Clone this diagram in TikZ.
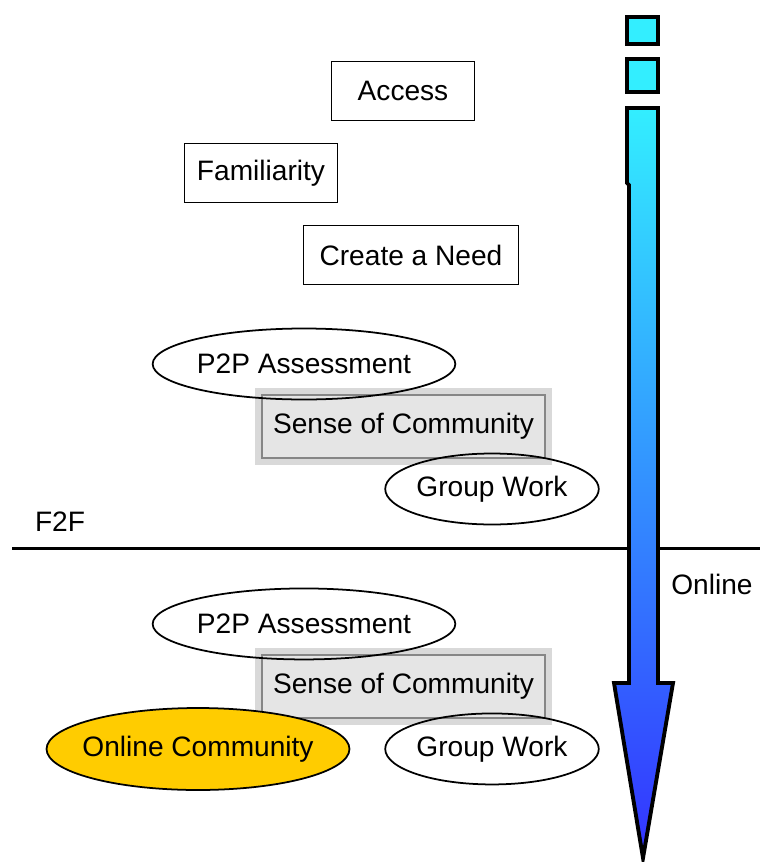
\documentclass[tikz,border=0pt]{standalone}
\usepackage{fontspec}
\setmainfont{Liberation Sans}
\usepackage{tikz}
\usetikzlibrary{shapes}
\usetikzlibrary{positioning}
\definecolor{arrowtop}{RGB}{51,238,255}
\definecolor{arrowbot}{RGB}{51,51,255}
\definecolor{commyellow}{RGB}{255,204,0}

\begin{document}
\begin{tikzpicture}[x=0.02cm,y=-0.02cm,
  every node/.style={font=\fontsize{16}{19}\selectfont},
  box/.style={draw,line width=1.1pt,minimum height=1.18cm},
  oval/.style={draw,ellipse,line width=1pt,inner sep=0pt,minimum height=1.42cm},
  sense/.style={draw=gray!95,line width=1.6pt,fill=gray!20,minimum width=5.66cm,
    minimum height=1.26cm,preaction={draw=gray!30,line width=8pt,rounded corners=4pt}}]
  \useasboundingbox (0,0) rectangle (760,862);

  % steps before the class
  \draw node[box,minimum width=2.86cm] at (403,91) (access) {Access};
  \draw node[box,minimum width=3.06cm] at (261,173) (famil) {Familiarity};
  \draw node[box,minimum width=4.3cm] at (411,255) (need) {Create a Need};

  % F2F part
  \draw node[sense] at (403.5,426.5) (sensef2f) {Sense of Community};
  \draw node[oval,minimum width=6.04cm] at (304,364) (ptpf2f) {P2P Assessment};
  \draw node[oval,minimum width=4.24cm] at (492,489) (groupf2f) {Group Work};
  \draw node at (60,522) (ftf) {F2F};

  % online part, same items shifted down
  \draw node[sense,below of=sensef2f,node distance=5.2cm] (senseon) {Sense of Community};
  \draw node[oval,minimum width=6.04cm,below of=ptpf2f,node distance=5.2cm] (ptpon) {P2P Assessment};
  \draw node[oval,minimum width=4.24cm,below of=groupf2f,node distance=5.2cm] (groupon) {Group Work};
  \draw node[oval,fill=commyellow,minimum width=6.06cm,minimum height=1.64cm,inner xsep=-5pt]
    at (198,749) (commun) {Online Community};
  \draw node at (712,584) (online) {Online};

  % divider
  \draw[line width=1.7pt] (12,548) -- (760,548);

  % time arrow
  \draw[line width=2.2pt,fill=arrowtop] (627,17) rectangle (658,44);
  \draw[line width=2.2pt,fill=arrowtop] (627,59) rectangle (658,92);
  \draw[line width=2.2pt,line join=miter,top color=arrowtop,bottom color=arrowbot]
    (627,108) -- (658,108) -- (658,683) -- (673,683) -- (643,858)
    -- (614,683) -- (629,683) -- (629,185) -- (627,183) -- cycle;

\end{tikzpicture}
\end{document}
